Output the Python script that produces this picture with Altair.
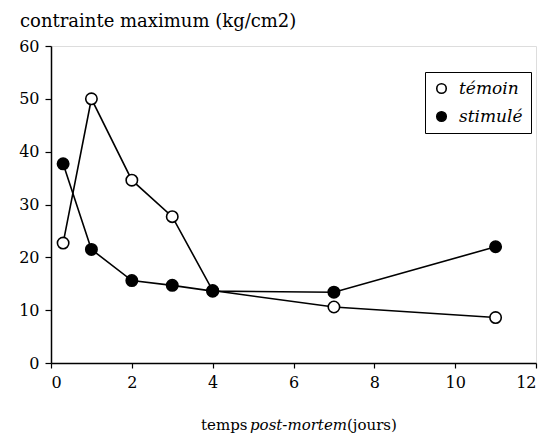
import altair as alt
import pandas as pd

days_temoin = [0.3, 1, 2, 3, 4, 7, 11]
vals_temoin = [22.7, 50.0, 34.6, 27.7, 13.7, 10.6, 8.6]
days_stimule = [0.3, 1, 2, 3, 4, 7, 11]
vals_stimule = [37.7, 21.5, 15.6, 14.7, 13.6, 13.4, 22.0]
series = ["témoin", "stimulé"]

df = pd.DataFrame(
    [{"jour": d, "val": v, "serie": "témoin", "o": i} for i, (d, v) in enumerate(zip(days_temoin, vals_temoin))]
    + [{"jour": d, "val": v, "serie": "stimulé", "o": i} for i, (d, v) in enumerate(zip(days_stimule, vals_stimule))]
)

FONT = "'DejaVu Serif', serif"

x = alt.X("jour:Q", scale=alt.Scale(domain=[0, 12], nice=False),
          axis=alt.Axis(values=[0, 2, 4, 6, 8, 10, 12], title=None, grid=False,
                        labelFont=FONT, labelFontSize=16, labelColor="black",
                        tickColor="black", domainColor="black", tickSize=5,
                        labelPadding=6, domainWidth=1.5, tickWidth=1.2))
y = alt.Y("val:Q", scale=alt.Scale(domain=[0, 60], nice=False),
          axis=alt.Axis(values=[0, 10, 20, 30, 40, 50, 60], title=None, grid=False,
                        labelFont=FONT, labelFontSize=16, labelColor="black",
                        tickColor="black", domainColor="black", tickSize=6,
                        labelPadding=6, domainWidth=1.5, tickWidth=1.2))

lines = alt.Chart(df).mark_line(color="black", strokeWidth=1.6).encode(
    x=x, y=y, detail="serie:N", order="o:Q"
)

points = alt.Chart(df).mark_point(shape="circle", size=130, strokeWidth=1.6, opacity=1).encode(
    x="jour:Q", y="val:Q",
    fill=alt.Fill("serie:N", scale=alt.Scale(domain=series, range=["white", "black"]),
                  legend=alt.Legend(title=None, orient="none", legendX=374, legendY=26,
                                    symbolType="circle", symbolSize=90, symbolStrokeColor="black",
                                    symbolStrokeWidth=1.6, symbolOpacity=1,
                                    labelFont=FONT, labelFontSize=17, labelFontStyle="italic",
                                    labelColor="black", strokeColor="black", padding=8,
                                    rowPadding=10, fillColor="white", labelOffset=9)),
    stroke=alt.value("black"),
)

title = alt.Chart(pd.DataFrame({"t": ["contrainte maximum (kg/cm2)"]})).mark_text(
    align="left", baseline="alphabetic", font=FONT, fontSize=18, color="black"
).encode(x=alt.value(-31), y=alt.value(-19), text="t:N")

xt1 = alt.Chart(pd.DataFrame({"t": ["temps"]})).mark_text(
    align="left", baseline="alphabetic", font=FONT, fontSize=15, color="black"
).encode(x=alt.value(150), y=alt.value(384), text="t:N")
xt2 = alt.Chart(pd.DataFrame({"t": ["post-mortem"]})).mark_text(
    align="left", baseline="alphabetic", font=FONT, fontSize=15, fontStyle="italic", color="black"
).encode(x=alt.value(199), y=alt.value(384), text="t:N")
xt3 = alt.Chart(pd.DataFrame({"t": ["(jours)"]})).mark_text(
    align="left", baseline="alphabetic", font=FONT, fontSize=15, color="black"
).encode(x=alt.value(296), y=alt.value(384), text="t:N")

chart = alt.layer(lines, points, title, xt1, xt2, xt3).properties(
    width=485, height=317,
    autosize=alt.AutoSizeParams(type="none"),
    padding={"left": 51, "top": 46, "right": 9, "bottom": 75},
).configure_view(stroke=None).configure(background="white")

chart.save("out.html", embed_options={"renderer": "svg", "actions": False})
